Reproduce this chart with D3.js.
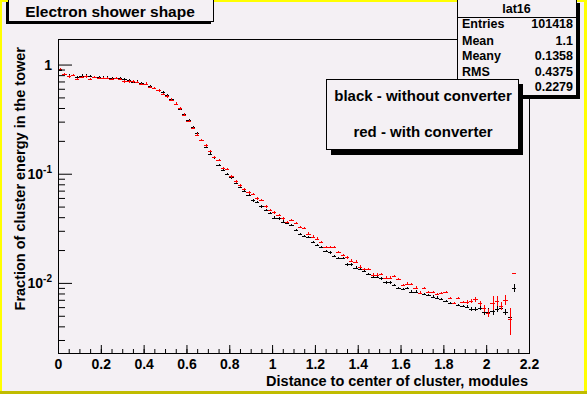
<!DOCTYPE html>
<html>
<head>
<meta charset="utf-8">
<script src="https://cdn.jsdelivr.net/npm/d3@7"></script>
<style>
body { margin: 0; background: #f4f0f4; }
svg { display: block; font-family: "Liberation Sans", Arial, Helvetica, sans-serif; font-weight: bold; }
</style>
</head>
<body>
<svg id="chart" width="587" height="394"></svg>
<script>
// histogram bins, 0.02 modules wide, starting at 0
const binWidth = 0.02
const xTicks = [0, 0.2, 0.4, 0.6, 0.8, 1, 1.2, 1.4, 1.6, 1.8, 2, 2.2]
const xTickLabels = ["0", "0.2", "0.4", "0.6", "0.8", "1", "1.2", "1.4", "1.6", "1.8", "2", "2.2"]
const yMajor = [0.01, 0.1, 1]
const yMajorExp = ["-2", "-1", ""]

// black - without converter
const withoutConv = [
    0.887, 0.822, 0.793, 0.804, 0.771, 0.793, 0.793, 0.781, 0.771, 0.771,
    0.760, 0.760, 0.749, 0.749, 0.749, 0.740, 0.718, 0.698, 0.698, 0.679,
    0.662, 0.632, 0.611, 0.581, 0.557, 0.527, 0.480, 0.439, 0.395, 0.350,
    0.308, 0.268, 0.236, 0.205, 0.176, 0.153, 0.141, 0.121, 0.109, 0.100,
    0.0925, 0.0822, 0.0755, 0.0698, 0.0637, 0.0569, 0.0553, 0.0501, 0.0468, 0.0436,
    0.0397, 0.0389, 0.0365, 0.0353, 0.0338, 0.0306, 0.0282, 0.0268, 0.0262, 0.0236,
    0.0223, 0.0212, 0.0197, 0.0190, 0.0176, 0.0170, 0.0170, 0.0148, 0.0148, 0.0138,
    0.0134, 0.0129, 0.0121, 0.0114, 0.0113, 0.0110, 0.0101, 0.0101, 0.00953, 0.00893,
    0.00875, 0.00893, 0.00832, 0.00832, 0.00805, 0.00787, 0.00771, 0.00748, 0.00733, 0.00713,
    0.00684, 0.00651, 0.00651, 0.00624, 0.00615, 0.00607, 0.00581, 0.00581, 0.00594, 0.00542,
    0.00546, 0.00555, 0.00581, 0.00594, 0.00542, 0.00491, 0.00906
]

// red - with converter
const withConv = [
    0.913, 0.82, 0.78, 0.80, 0.74, 0.77, 0.78, 0.74, 0.77, 0.75,
    0.75, 0.75, 0.74, 0.75, 0.74, 0.70, 0.70, 0.70, 0.69, 0.66,
    0.67, 0.624, 0.606, 0.58, 0.54, 0.51, 0.478, 0.439, 0.397, 0.348,
    0.306, 0.263, 0.228, 0.204, 0.182, 0.161, 0.142, 0.134, 0.113, 0.110,
    0.0946, 0.0851, 0.0782, 0.0724, 0.0674, 0.0656, 0.0594, 0.0574, 0.0501, 0.0468,
    0.0442, 0.0421, 0.0389, 0.0363, 0.0379, 0.0355, 0.0326, 0.0320, 0.0283, 0.0266,
    0.0255, 0.0238, 0.0214, 0.0214, 0.0214, 0.0191, 0.0180, 0.0171, 0.0160, 0.0157,
    0.0141, 0.0135, 0.0135, 0.0119, 0.0119, 0.0120, 0.0112, 0.0112, 0.0116, 0.0108,
    0.00953, 0.00986, 0.00982, 0.00906, 0.00815, 0.00893, 0.00827, 0.00827, 0.00787, 0.00805,
    0.00827, 0.00724, 0.00651, 0.00724, 0.00670, 0.00670, 0.00684, 0.00709, 0.00651, 0.00586,
    0.00527, 0.00660, 0.00684, 0.00615, 0.00698, 0.00465, 0.0123
]

const errBase = 0.025
const errTailStart = 95
const withoutErrTail = [0.035, 0.04, 0.04, 0.045, 0.07, 0.07, 0.09, 0.06, 0.055, 0.055, 0.07, 0.085]
const withErrTail = [0.04, 0.04, 0.055, 0.055, 0.07, 0.085, 0.15, 0.11, 0.085, 0.10, 0.28, 0]

// last row name (RMSy) sits under the legend box and is not drawn
const statsTitle = "lat16"
const statsNames = ["Entries", "Mean", "Meany", "RMS", ""]
const statsValues = ["101418", "1.1", "0.1358", "0.4375", "0.2279"]

const bg = "#f4f0f4"
const svg = d3.select("#chart")

// canvas bevel
svg.append("rect").attr("width", 587).attr("height", 394).attr("fill", bg)
svg.append("rect").attr("x", 0).attr("y", 0).attr("width", 587).attr("height", 2).attr("fill", "#ffff00")
svg.append("rect").attr("x", 0).attr("y", 0).attr("width", 2).attr("height", 394).attr("fill", "#ffff00")
svg.append("rect").attr("x", 584).attr("y", 0).attr("width", 3).attr("height", 394).attr("fill", "#ffff00")
svg.append("rect").attr("x", 0).attr("y", 391).attr("width", 587).attr("height", 3).attr("fill", "#c0bc00")

const fLeft = 58, fRight = 529, fTop = 39, fBottom = 353

const xScale = d3.scaleLinear().domain([0, 2.2]).range([fLeft, fRight])
const yScale = d3.scaleLog().domain([0.00228, 1.714]).range([fBottom, fTop])

svg.append("clipPath").attr("id", "frameClip")
    .append("rect").attr("x", fLeft).attr("y", fTop).attr("width", fRight - fLeft).attr("height", fBottom - fTop)

// error crosses
function drawHist(values, errTail, color) {
    const g = svg.append("g")
        .attr("clip-path", "url(#frameClip)")
        .attr("stroke", color)
        .attr("stroke-width", 1)
        .attr("shape-rendering", "crispEdges")
    values.forEach(function (v, i) {
        var e = i >= errTailStart ? errTail[i - errTailStart] : errBase
        var x0 = xScale(i * binWidth), x1 = xScale((i + 1) * binWidth)
        var xc = Math.round(xScale((i + 0.5) * binWidth)) + 0.5
        var yc = Math.round(yScale(v)) + 0.5
        g.append("line").attr("x1", x0).attr("x2", x1).attr("y1", yc).attr("y2", yc)
        if (e > 0) {
            g.append("line").attr("x1", xc).attr("x2", xc)
                .attr("y1", yScale(v * (1 + e))).attr("y2", yScale(Math.max(v * (1 - e), 1e-6)))
        }
    })
}
drawHist(withoutConv, withoutErrTail, "black")
drawHist(withConv, withErrTail, "#ff0000")

// x axis, ticks pointing inward
const xMinor = d3.range(0, 2.2001, 0.05)
svg.append("g").attr("transform", "translate(0," + fBottom + ")")
    .call(d3.axisBottom(xScale).tickValues(xMinor).tickSize(-4).tickFormat(""))
    .call(g => g.select(".domain").remove())
svg.append("g").attr("transform", "translate(0," + fBottom + ")")
    .call(d3.axisBottom(xScale).tickValues(xTicks).tickSize(-8).tickPadding(6)
        .tickFormat((d, i) => xTickLabels[i]))
    .attr("font-size", 14).attr("font-family", null)
    .call(g => g.select(".domain").remove())
    .call(g => g.selectAll("text").attr("fill", "black"))

// y axis, log
const yMinor = []
;[0.001, 0.01, 0.1, 1].forEach(function (d) {
    for (var k = 2; k <= 9; k++) {
        var v = d * k
        if (v > yScale.domain()[0] && v < yScale.domain()[1]) yMinor.push(v)
    }
})
svg.append("g").attr("transform", "translate(" + fLeft + ",0)")
    .call(d3.axisLeft(yScale).tickValues(yMinor).tickSize(-7).tickFormat(""))
    .call(g => g.select(".domain").remove())
svg.append("g").attr("transform", "translate(" + fLeft + ",0)")
    .call(d3.axisLeft(yScale).tickValues(yMajor).tickSize(-14).tickFormat(""))
    .call(g => g.select(".domain").remove())
svg.selectAll(".tick line").attr("stroke", "black")

const yLab = svg.append("g").attr("font-size", 14).attr("text-anchor", "end")
yMajor.forEach(function (d, i) {
    var t = yLab.append("text").attr("x", fLeft - 6).attr("y", yScale(d) + 5)
    if (yMajorExp[i] === "") {
        t.text("1")
    } else {
        t.append("tspan").text("10")
        t.append("tspan").attr("font-size", 10).attr("dy", -6).text(yMajorExp[i])
    }
})

// frame
svg.append("rect").attr("x", fLeft + 0.5).attr("y", fTop + 0.5)
    .attr("width", fRight - fLeft).attr("height", fBottom - fTop)
    .attr("fill", "none").attr("stroke", "black").attr("shape-rendering", "crispEdges")

// axis titles
svg.append("text").attr("x", fRight - 1).attr("y", 386).attr("text-anchor", "end")
    .attr("font-size", 14.5).text("Distance to center of cluster, modules")
svg.append("text").attr("transform", "translate(25,47) rotate(-90)").attr("text-anchor", "end")
    .attr("font-size", 14.5).text("Fraction of cluster energy in the tower")

// title box (shadow on left/bottom)
svg.append("rect").attr("x", 6).attr("y", 2).attr("width", 205).attr("height", 22).attr("fill", "black")
svg.append("rect").attr("x", 8.5).attr("y", -1.5).attr("width", 205).attr("height", 23)
    .attr("fill", bg).attr("stroke", "black").attr("shape-rendering", "crispEdges")
svg.append("text").attr("x", 110).attr("y", 16.5).attr("text-anchor", "middle")
    .attr("font-size", 15.5).text("Electron shower shape")

// stats box
const sx = 457, sw = 119, sh = 96
svg.append("rect").attr("x", sx + 3).attr("y", 3).attr("width", sw + 1).attr("height", sh).attr("fill", "black")
svg.append("rect").attr("x", sx + 0.5).attr("y", -1.5).attr("width", sw).attr("height", sh + 1)
    .attr("fill", bg).attr("stroke", "black").attr("shape-rendering", "crispEdges")
svg.append("line").attr("x1", sx).attr("x2", sx + sw).attr("y1", 17.5).attr("y2", 17.5)
    .attr("stroke", "black").attr("shape-rendering", "crispEdges")
const st = svg.append("g").attr("font-size", 12.5)
st.append("text").attr("x", sx + sw / 2).attr("y", 13).attr("text-anchor", "middle").text(statsTitle)
const rowY = [28, 44.5, 60, 75.5, 91]
statsNames.forEach(function (n, i) {
    if (n) st.append("text").attr("x", sx + 5).attr("y", rowY[i]).text(n)
    st.append("text").attr("x", sx + sw - 3).attr("y", rowY[i]).attr("text-anchor", "end").text(statsValues[i])
})

// legend box
const lx = 326, ly = 79, lw = 192, lh = 70
svg.append("rect").attr("x", lx + 5).attr("y", ly + 5).attr("width", lw).attr("height", lh + 1).attr("fill", "black")
svg.append("rect").attr("x", lx + 0.5).attr("y", ly + 0.5).attr("width", lw).attr("height", lh)
    .attr("fill", bg).attr("stroke", "black").attr("shape-rendering", "crispEdges")
svg.append("text").attr("x", lx + lw / 2 + 1).attr("y", 101).attr("text-anchor", "middle")
    .attr("font-size", 15).text("black - without converter")
svg.append("text").attr("x", lx + lw / 2 + 1).attr("y", 137).attr("text-anchor", "middle")
    .attr("font-size", 15).text("red - with converter")
</script>
</body>
</html>
